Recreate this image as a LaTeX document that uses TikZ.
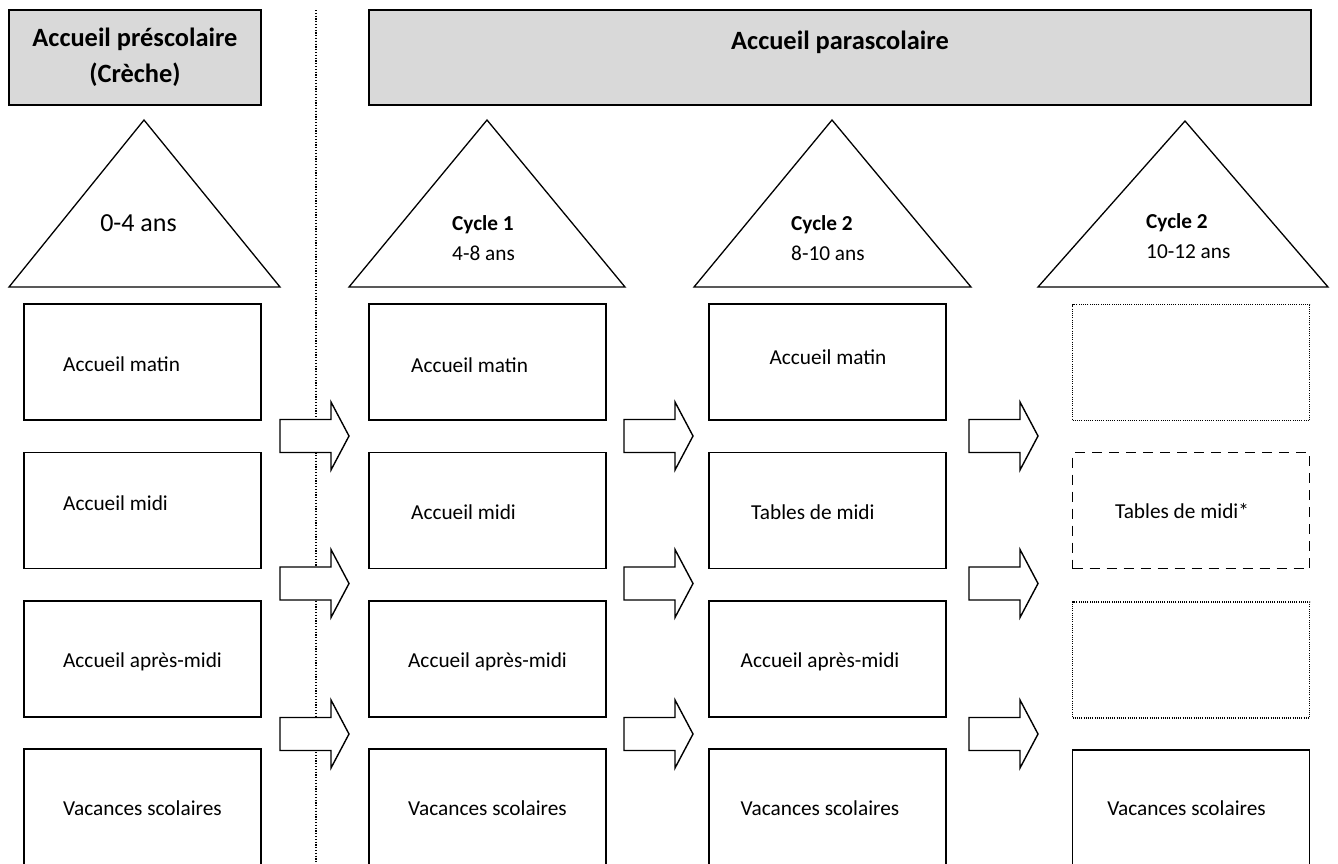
\documentclass[tikz,border=0pt]{standalone}
\usepackage{fontspec}
\setmainfont{Carlito}
\usetikzlibrary{positioning}

\begin{document}
\begin{tikzpicture}[x=1pt, y=-1pt,
    hdr/.style={draw, line width=1.6pt, fill=black!15, inner sep=0pt},
    cell/.style={draw, line width=1.6pt, minimum width=237pt, minimum height=116pt, inner sep=0pt},
    dotbox/.style={line width=1.3pt, dash pattern=on 1pt off 1.2pt},
    dashbox/.style={line width=1.6pt, dash pattern=on 10pt off 7pt},
    tri/.style={draw, line width=1.3pt},
    blk/.style={draw, line width=1.4pt, fill=white},
    sep/.style={line width=1.2pt, dash pattern=on 1.2pt off 1.6pt},
    lbl/.style={inner sep=0pt, font=\fontsize{21.3}{26}\selectfont},
    big/.style={inner sep=0pt, font=\fontsize{26.4}{36}\selectfont\bfseries}]
    \useasboundingbox (0,0) rectangle (1338,863);

    % separation creche / parascolaire
    \draw[sep] (316,10) -- (316,870);

    % titres
    \node[hdr, minimum width=252pt, minimum height=95pt, align=center, big] (pre) at (135,57.5)
        {Accueil préscolaire\\(Crèche)};
    \node[hdr, minimum width=942pt, minimum height=95pt] (para) at (840,57.5) {};
    \node[big, anchor=base] (paraT) at (para.center |- 0,49) {Accueil parascolaire};

    % triangles des ages
    \draw[tri] (9,287) -- (144,120) -- (280,287) -- cycle;
    \draw[tri] (349,287) -- (487,120) -- (625,287) -- cycle;
    \draw[tri] (694,287) -- (832,120) -- (971,287) -- cycle;
    \draw[tri] (1038,287) -- (1185,121) -- (1328,287) -- cycle;
    \node[inner sep=0pt, anchor=base, font=\fontsize{26}{30}\selectfont] (age0) at (138.5,231) {0-4 ans};
    \node[lbl, anchor=base west] (cyc1) at (452,230) {\textbf{Cycle 1}};
    \node[lbl, anchor=base west] (age1) at (452,260) {4-8 ans};
    \node[lbl, anchor=base west] (cyc2) at (791,230) {\textbf{Cycle 2}};
    \node[lbl, anchor=base west] (age2) at (791,260) {8-10 ans};
    \node[lbl, anchor=base west] (cyc3) at (1146,228) {\textbf{Cycle 2}};
    \node[lbl, anchor=base west] (age3) at (1146,258) {10-12 ans};

    % cases
    \foreach \c/\x in {0/142.5,1/487.5,2/827.5}
      \foreach \r/\y in {1/362,2/510.5,3/659,4/807}
        \node[cell] (b\c\r) at (\x,\y) {};
    \node[cell, dotbox] (b31) at (1191,362.5) {};
    \node[cell, dashbox] (b32) at (1191,510.5) {};
    \node[cell, dotbox] (b33) at (1191,660) {};
    \node[cell] (b34) at (1191,808) {};

    \node[lbl, anchor=base west] (t01) at (63,371) {Accueil matin};
    \node[lbl, anchor=base west] (t02) at (63,510) {Accueil midi};
    \node[lbl, anchor=base] (t03) at (142.5,667) {Accueil après-midi};
    \node[lbl, anchor=base] (t04) at (142.5,815) {Vacances scolaires};

    \node[lbl, anchor=base west] (t11) at (411,372) {Accueil matin};
    \node[lbl, anchor=base west] (t12) at (411,519) {Accueil midi};
    \node[lbl, anchor=base] (t13) at (487.5,667) {Accueil après-midi};
    \node[lbl, anchor=base] (t14) at (487.5,815) {Vacances scolaires};

    \node[lbl, anchor=base] (t21) at (828,364) {Accueil matin};
    \node[lbl, anchor=base west] (t22) at (751,519) {Tables de midi};
    \node[lbl, anchor=base west] (t23) at (740.5,667) {Accueil après-midi};
    \node[lbl, anchor=base west] (t24) at (740.5,815) {Vacances scolaires};

    \node[lbl, anchor=base] (t32) at (1182,518) {Tables de midi*};
    \node[lbl, anchor=base] (t34) at (1186.5,815) {Vacances scolaires};

    % fleches de passage
    \foreach \x in {280,624,969}
      \foreach \y in {436,583.5,734}
        \draw[blk] (\x,\y-16.5) -- ++(51,0) -- ++(0,-17.5) -- ++(18,34)
          -- ++(-18,34) -- ++(0,-17.5) -- ++(-51,0) -- cycle;
\end{tikzpicture}
\end{document}
